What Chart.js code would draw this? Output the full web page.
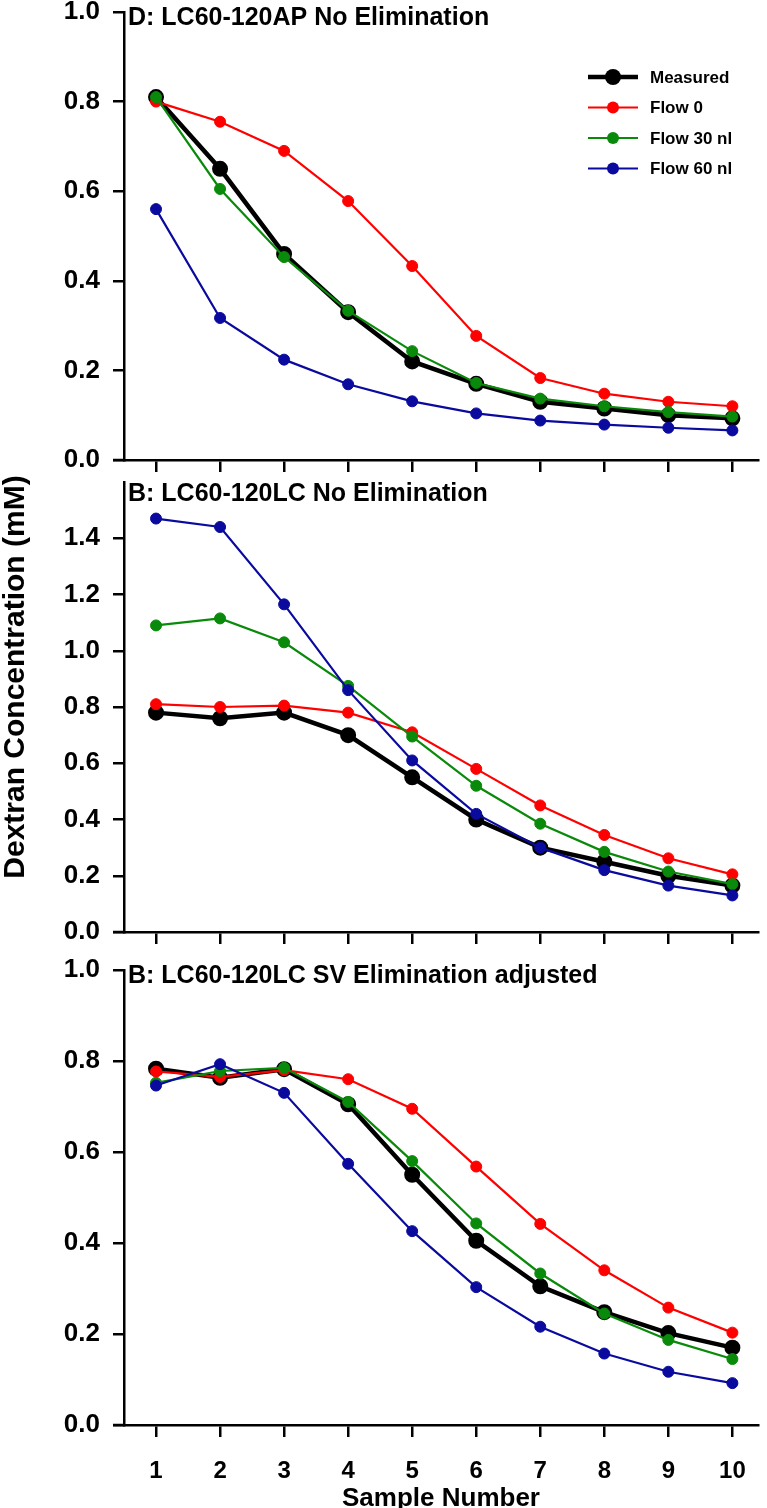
<!DOCTYPE html>
<html>
<head>
<meta charset="utf-8">
<script src="https://cdn.jsdelivr.net/npm/chart.js@4.4.1/dist/chart.umd.min.js"></script>
<style>
  body { margin: 0; background: #fff; }
  #wrap { position: relative; width: 767px; height: 1508px; }
  canvas { position: absolute; left: 0; }
</style>
</head>
<body>
<div id="wrap">
  <canvas id="c1" width="767" height="480" style="top:0"></canvas>
  <canvas id="c2" width="767" height="510" style="top:440px"></canvas>
  <canvas id="c3" width="767" height="558" style="top:950px"></canvas>
</div>
<script>
// données
const samples = [1, 2, 3, 4, 5, 6, 7, 8, 9, 10];
const seriesNames = ['Measured', 'Flow 0', 'Flow 30 nl', 'Flow 60 nl'];
const seriesColors = ['#000000', '#ff0000', '#0a8a0a', '#0a0a9e'];

// Panneau D
const apMeasured = [0.81, 0.65, 0.46, 0.33, 0.22, 0.17, 0.13, 0.115, 0.10, 0.093];
const apFlow0    = [0.80, 0.755, 0.69, 0.578, 0.433, 0.277, 0.183, 0.148, 0.13, 0.12];
const apFlow30   = [0.81, 0.605, 0.453, 0.333, 0.243, 0.172, 0.137, 0.12, 0.107, 0.097];
const apFlow60   = [0.56, 0.317, 0.224, 0.169, 0.131, 0.104, 0.088, 0.079, 0.072, 0.066];

// Panneau B
const lcMeasured = [0.78, 0.76, 0.78, 0.70, 0.55, 0.40, 0.30, 0.25, 0.20, 0.165];
const lcFlow0    = [0.81, 0.80, 0.805, 0.78, 0.71, 0.58, 0.45, 0.345, 0.262, 0.205];
const lcFlow30   = [1.09, 1.115, 1.03, 0.875, 0.695, 0.52, 0.385, 0.285, 0.215, 0.17];
const lcFlow60   = [1.47, 1.44, 1.165, 0.86, 0.61, 0.42, 0.30, 0.22, 0.165, 0.13];

// Panneau B SV
const svMeasured = [0.783, 0.763, 0.782, 0.705, 0.55, 0.405, 0.305, 0.248, 0.202, 0.17];
const svFlow0    = [0.777, 0.765, 0.78, 0.76, 0.695, 0.568, 0.442, 0.34, 0.258, 0.203];
const svFlow30   = [0.752, 0.778, 0.785, 0.71, 0.58, 0.443, 0.333, 0.245, 0.187, 0.145];
const svFlow60   = [0.746, 0.793, 0.73, 0.574, 0.426, 0.303, 0.216, 0.157, 0.117, 0.092];

const yTicksShort = [0, 0.2, 0.4, 0.6, 0.8, 1.0];
const yTicksTall  = [0, 0.2, 0.4, 0.6, 0.8, 1.0, 1.2, 1.4];

const FONT = '"Liberation Sans", Arial, sans-serif';

function makeDatasets(values) {
    return values.map((vals, i) => ({
        label: seriesNames[i],
        data: vals.map((v, k) => ({ x: samples[k], y: v })),
        borderColor: seriesColors[i],
        backgroundColor: seriesColors[i],
        pointBackgroundColor: seriesColors[i],
        pointBorderColor: seriesColors[i],
        borderWidth: i === 0 ? 4.5 : 2.2,
        pointRadius: i === 0 ? 7 : 5.5,
        pointBorderWidth: i === 0 ? 2 : 1,
        order: 4 - i,
        tension: 0
    }));
}

// titre du panneau, titre vertical + prolongement de l'axe x vers la gauche
const panelDecor = {
    id: 'panelDecor',
    afterDraw(chart, args, opts) {
        const ctx = chart.ctx;
        const area = chart.chartArea;
        ctx.save();
        ctx.strokeStyle = '#000';
        ctx.lineWidth = 2.5;
        ctx.beginPath();
        ctx.moveTo(area.left - 11, area.bottom);
        ctx.lineTo(area.left, area.bottom);
        ctx.stroke();
        ctx.fillStyle = '#000';
        ctx.font = 'bold 25px ' + FONT;
        ctx.textBaseline = 'middle';
        ctx.textAlign = 'left';
        ctx.fillText(opts.title, area.left + 4, area.top + opts.titleDy);
        if (opts.yTitleY) {
            ctx.translate(16, opts.yTitleY);
            ctx.rotate(-Math.PI / 2);
            ctx.textAlign = 'center';
            ctx.font = 'bold 30px ' + FONT;
            ctx.fillText('Dextran Concentration (mM)', 0, 0);
        }
        ctx.restore();
    }
};

// légende dessinée à la main dans le premier panneau
const freeLegend = {
    id: 'freeLegend',
    afterDraw(chart, args, opts) {
        if (!opts.show) return;
        const ctx = chart.ctx;
        ctx.save();
        seriesNames.forEach((name, i) => {
            const y = opts.y0 + i * opts.dy;
            ctx.strokeStyle = seriesColors[i];
            ctx.fillStyle = seriesColors[i];
            ctx.lineWidth = i === 0 ? 4.5 : 2.2;
            ctx.beginPath();
            ctx.moveTo(opts.x0, y);
            ctx.lineTo(opts.x0 + 50, y);
            ctx.stroke();
            ctx.beginPath();
            ctx.arc(opts.x0 + 25, y, i === 0 ? 8 : 6, 0, Math.PI * 2);
            ctx.fill();
            ctx.fillStyle = '#000';
            ctx.font = 'bold 17px ' + FONT;
            ctx.textBaseline = 'middle';
            ctx.fillText(name, opts.x0 + 62, y + 1);
        });
        ctx.restore();
    }
};

function makePanel(id, values, cfg) {
    const ctx = document.getElementById(id).getContext('2d');
    return new Chart(ctx, {
        type: 'line',
        data: { datasets: makeDatasets(values) },
        options: {
            responsive: false,
            animation: false,
            devicePixelRatio: 1,
            layout: { padding: { top: cfg.padTop, left: 0, right: 0, bottom: 0 } },
            plugins: {
                legend: { display: false },
                tooltip: { enabled: false },
                panelDecor: { title: cfg.title, titleDy: cfg.titleDy, yTitleY: cfg.yTitleY },
                freeLegend: { show: !!cfg.legend, x0: 588, y0: 77, dy: 30.5 }
            },
            scales: {
                x: {
                    type: 'linear',
                    min: 0.5,
                    max: 10.4,
                    afterBuildTicks: s => { s.ticks = samples.map(v => ({ value: v })); },
                    afterFit: s => { s.height = cfg.xHeight; s.paddingLeft = 0; s.paddingRight = 0; },
                    grid: { drawOnChartArea: false, tickLength: 12, color: '#000', lineWidth: 2.5 },
                    border: { display: true, color: '#000', width: 2.5 },
                    ticks: {
                        display: !!cfg.xLabels,
                        padding: 20,
                        color: '#000',
                        font: { family: FONT, size: 24, weight: 'bold' },
                        maxRotation: 0
                    },
                    title: {
                        display: !!cfg.xLabels,
                        text: 'Sample Number',
                        color: '#000',
                        font: { family: FONT, size: 26, weight: 'bold' },
                        padding: { top: 0, bottom: -6 }
                    }
                },
                y: {
                    min: 0,
                    max: cfg.yMax,
                    afterBuildTicks: s => { s.ticks = cfg.yTicks.map(v => ({ value: v })); },
                    afterFit: s => { s.width = 124; s.paddingTop = 0; s.paddingBottom = 0; },
                    grid: { drawOnChartArea: false, tickLength: 11, color: '#000', lineWidth: 2.5 },
                    border: { display: true, color: '#000', width: 2.5 },
                    ticks: {
                        padding: 13,
                        color: '#000',
                        font: { family: FONT, size: 26, weight: 'bold' },
                        callback: v => Number(v).toFixed(1)
                    }
                }
            }
        },
        plugins: [panelDecor, freeLegend]
    });
}

makePanel('c1', [apMeasured, apFlow0, apFlow30, apFlow60], {
    title: 'D: LC60-120AP No Elimination', titleDy: 6,
    padTop: 12, xHeight: 20, yMax: 1.0, yTicks: yTicksShort, legend: true
});
makePanel('c2', [lcMeasured, lcFlow0, lcFlow30, lcFlow60], {
    title: 'B: LC60-120LC No Elimination', titleDy: 12,
    padTop: 42, xHeight: 18, yMax: 1.6, yTicks: yTicksTall, yTitleY: 237
});
makePanel('c3', [svMeasured, svFlow0, svFlow30, svFlow60], {
    title: 'B: LC60-120LC SV Elimination adjusted', titleDy: 6,
    padTop: 20, xHeight: 83, yMax: 1.0, yTicks: yTicksShort, xLabels: true
});
</script>
</body>
</html>
